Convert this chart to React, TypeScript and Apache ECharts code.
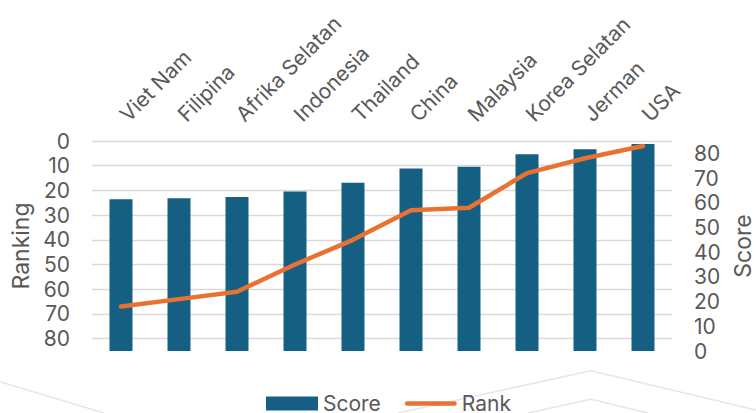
import React, { useEffect, useRef } from "react";
import * as echarts from "echarts";

const categories = ["Viet Nam", "Filipina", "Afrika Selatan", "Indonesia", "Thailand", "China", "Malaysia", "Korea Selatan", "Jerman", "USA"];
const scoreValues = [61.4, 61.8, 62.3, 64.6, 68.1, 73.9, 74.6, 79.6, 81.7, 83.8];
const rankValues = [67, 64, 61, 50, 40, 28, 27, 13, 7, 2];
const rankTicks = [0, 10, 20, 30, 40, 50, 60, 70, 80];
const scoreTicks = [0, 10, 20, 30, 40, 50, 60, 70, 80];

const FONT = "Inter, sans-serif";
const GRAY = "#595959";

export default function App() {
  const ref = useRef<HTMLDivElement>(null);
  useEffect(() => {
    if (!ref.current) return;
    const chart = echarts.init(ref.current, null, { renderer: "svg" });
    const wm = { stroke: "#E1E6F0", lineWidth: 1.5, fill: "none" };
    chart.setOption({
      animation: false,
      backgroundColor: "#ffffff",
      textStyle: { fontFamily: FONT },
      graphic: [
        { type: "polyline", silent: true, z: -10, shape: { points: [[0, 381.7], [104, 413]] }, style: wm },
        { type: "polyline", silent: true, z: -10, shape: { points: [[398, 413], [591, 370.7], [760, 411]] }, style: wm },
        { type: "polyline", silent: true, z: -10, shape: { points: [[528, 413], [591, 399.3], [648, 413]] }, style: wm },
      ],
      grid: { left: 92, right: 84, top: 141, bottom: 62, containLabel: false, outerBoundsMode: "none" },
      legend: {
        top: 388,
        left: 261,
        data: [
          { name: "Score", icon: "rect" },
          { name: "Rank", icon: "path://M2.5,0 L54.5,0 A2.5,2.5 0 0 1 54.5,5 L2.5,5 A2.5,2.5 0 0 1 2.5,0 Z" },
        ],
        itemWidth: 52,
        itemHeight: 14,
        itemGap: 24,
        textStyle: { fontSize: 21, color: GRAY, fontFamily: FONT },
      },
      xAxis: {
        type: "category",
        position: "top",
        data: categories,
        axisLine: { show: false },
        axisTick: { show: false },
        axisLabel: {
          rotate: 45,
          fontSize: 21,
          color: GRAY,
          interval: 0,
          margin: 6,
          align: "left",
          verticalAlign: "bottom",
          padding: [0, 0, 0, 14],
          fontFamily: FONT,
        },
      },
      yAxis: [
        {
          type: "value",
          inverse: true,
          min: 0,
          max: 85,
          interval: 10,
          name: "Ranking",
          nameLocation: "middle",
          nameGap: 55,
          nameRotate: 90,
          nameTextStyle: { fontSize: 23, color: GRAY, fontFamily: FONT },
          axisLine: { show: false },
          axisTick: { show: false },
          axisLabel: {
            fontSize: 21,
            color: GRAY,
            margin: 22,
            fontFamily: FONT,
            formatter: (v: number) => (rankTicks.includes(v) ? String(v) : ""),
          },
          splitLine: { show: true, showMaxLine: false, lineStyle: { color: "#D9D9D9", width: 1.3 } },
        },
        {
          type: "value",
          position: "right",
          min: 0,
          max: 85,
          interval: 10,
          name: "Score",
          nameLocation: "middle",
          nameGap: 57,
          nameRotate: 90,
          nameTextStyle: { fontSize: 23, color: GRAY, fontFamily: FONT },
          axisLine: { show: false },
          axisTick: { show: false },
          axisLabel: {
            fontSize: 21,
            color: GRAY,
            margin: 22,
            fontFamily: FONT,
            formatter: (v: number) => (scoreTicks.includes(v) ? String(v) : ""),
          },
          splitLine: { show: false },
        },
      ],
      series: [
        {
          name: "Score",
          type: "bar",
          yAxisIndex: 1,
          data: scoreValues,
          barWidth: 23,
          itemStyle: { color: "#156082" },
        },
        {
          name: "Rank",
          type: "line",
          yAxisIndex: 0,
          data: rankValues,
          symbol: "none",
          showSymbol: false,
          lineStyle: { color: "#E97132", width: 4.5, cap: "round", join: "round" },
          itemStyle: { color: "#E97132" },
        },
      ],
    });
    return () => chart.dispose();
  }, []);
  return <div ref={ref} style={{ position: "fixed", left: 0, top: 0, width: 756, height: 413 }} />;
}
